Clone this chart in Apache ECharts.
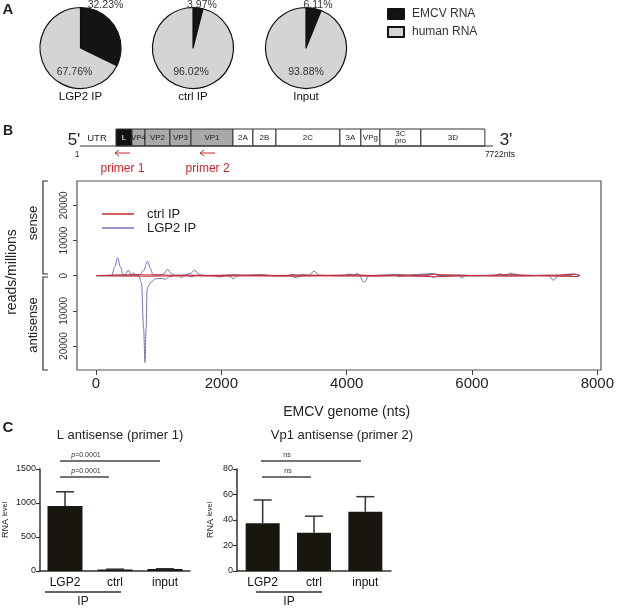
<!DOCTYPE html>
<html>
<head>
<meta charset="utf-8">
<script src="https://cdn.jsdelivr.net/npm/echarts@6/dist/echarts.min.js"></script>
<style>
  html, body { margin: 0; padding: 0; background: #fff; }
  #main { width: 617px; height: 608px; }
</style>
</head>
<body>
<div id="main"></div>
<script>
// ---- panel A: read share
const pieNames = ['EMCV RNA', 'human RNA']
const pieTitles = ['LGP2 IP', 'ctrl IP', 'Input']
const emcvPct = [32.23, 3.97, 6.11]
const humanPct = [67.76, 96.02, 93.88]

// ---- panel B: genome map (nt)
const genomeLen = 7722
const segNames = ['L', 'VP4', 'VP2', 'VP3', 'VP1', '2A', '2B', '2C', '3A', 'VPg', '3C\npro', '3D']
const segStart = [673, 972, 1215, 1682, 2075, 2860, 3234, 3664, 4860, 5252, 5607, 6374]
const segEnd = 7570
const primerNames = ['primer 1', 'primer 2']
const primerPos = [795, 2385]

// ---- panel B: coverage (reads/millions, antisense negative)
const lgp2Sense = [[0, 0], [250, 0], [300, 2500], [345, 5100], [390, 2500], [430, 200], [470, 300], [515, 1500],
  [560, 300], [595, 800], [640, 200], [700, 300], [760, 1500], [822, 4100], [870, 2000], [910, 200], [1000, 100],
  [1080, 500], [1145, 1800], [1200, 600], [1260, 100], [1400, 100], [1500, 600], [1575, 1500], [1650, 300],
  [1750, 0], [2000, 100], [2200, 300], [2400, 0], [2635, 300], [2800, 0], [3050, 0], [3150, 400], [3220, 100],
  [3290, 300], [3400, 100], [3480, 1300], [3560, 100], [3800, 0], [3950, 0], [4040, 500], [4100, 100], [4170, 600],
  [4240, 0], [4500, 100], [4800, 300], [5000, 200], [5180, 400], [5390, 600], [5500, 0], [5800, 200], [6000, 0],
  [6350, 0], [6450, 500], [6540, 100], [6610, 700], [6690, 400], [6800, 0], [7200, 100], [7400, 0], [7510, 400],
  [7640, 500], [7700, 100], [7722, 0]]
const lgp2Anti = [[0, 0], [680, 0], [725, -2000], [760, -15000], [782, -24700], [800, -15000], [815, -4000],
  [840, -2800], [885, -1700], [950, -900], [1050, -800], [1110, -1000], [1170, -300], [1250, 0], [1310, 0],
  [1360, -500], [1420, 0], [1460, 0], [1520, -400], [1580, 0], [1900, 0], [1970, -400], [2050, 0], [2120, 0],
  [2190, -900], [2260, 0], [3100, 0], [3170, -500], [3250, -300], [3300, 0], [4200, 0], [4280, -1900], [4360, 0],
  [4780, 0], [4850, -300], [4950, 0], [5320, 0], [5390, -500], [5450, 0], [5780, 0], [5840, -600], [5900, 0],
  [7220, 0], [7300, -1300], [7380, 0], [7580, 0], [7640, -300], [7722, 0]]
const ctrlSense = [[0, 0], [150, 100], [300, 200], [500, 250], [650, 300], [800, 200], [1000, 250], [1200, 100],
  [1500, 150], [1800, 50], [2100, 100], [2500, 200], [2900, 50], [3300, 150], [3700, 100], [4100, 250], [4400, 50],
  [4800, 150], [5100, 100], [5400, 350], [5800, 100], [6200, 50], [6500, 300], [6700, 250], [7000, 50], [7300, 150],
  [7500, 250], [7640, 400], [7722, 0]]
const ctrlAnti = [[0, 0], [400, -100], [800, -150], [1200, -100], [1600, -50], [2000, -150], [2400, -50],
  [2800, -100], [3200, -150], [3600, -50], [4000, -100], [4400, -150], [4800, -50], [5200, -200], [5400, -300],
  [5800, -100], [6200, -50], [6600, -150], [7000, -50], [7400, -150], [7640, -250], [7722, 0]]

// ---- panel C: qPCR
const barCats = ['LGP2', 'ctrl', 'input']
const lMean = [955, 22, 28]
const lErr = [210, 5, 5]
const vp1Mean = [37.5, 30, 46.5]
const vp1Err = [18.2, 13, 11.8]
const lPvals = ['p=0.0001', 'p=0.0001']
const vp1Pvals = ['ns', 'ns']

const FONT = 'Liberation Sans, Arial, sans-serif'
const RED = '#c8282e'
const BLUE = '#6d72b8'

const chart = echarts.init(document.getElementById('main'))

const g = []
function txt(x, y, s, size, opts) {
  opts = opts || {}
  g.push({
    type: 'text', x: x, y: y, rotation: opts.rotation || 0, z: 10,
    style: {
      text: s, fontSize: size, fontFamily: FONT, fill: opts.fill || '#222',
      fontWeight: opts.bold ? 'bold' : 'normal', fontStyle: opts.italic ? 'italic' : 'normal',
      align: opts.align || 'center', verticalAlign: 'middle', lineHeight: opts.lineHeight
    }
  })
}
function line(x1, y1, x2, y2, color, w) {
  g.push({ type: 'line', z: 10, shape: { x1: x1, y1: y1, x2: x2, y2: y2 }, style: { stroke: color || '#333', lineWidth: w || 1 } })
}

// panel letters
txt(8, 10, 'A', 15, { bold: true })
txt(8, 131, 'B', 14, { bold: true })
txt(8, 428, 'C', 15, { bold: true })

// pie labels
const pieCx = [80.5, 193, 306]
const pieTopDx = [25, 9, 12]
const pieLowDx = [-6, -2, 0]
pieTitles.forEach((t, i) => {
  txt(pieCx[i] + pieTopDx[i], 5, emcvPct[i].toFixed(2) + '%', 10.5, { fill: '#333' })
  txt(pieCx[i] + pieLowDx[i], 72, humanPct[i].toFixed(2) + '%', 10.5, { fill: '#333' })
  txt(pieCx[i], 97, t, 11.5, { fill: '#111' })
})

// genome map
const gx0 = 80, gx1 = 493
const ntPx = nt => gx0 + (nt / genomeLen) * (gx1 - gx0)
const boxTop = 129, boxH = 17
line(gx0, boxTop + boxH, gx1, boxTop + boxH, '#333', 1)
segNames.forEach((n, i) => {
  const a = ntPx(segStart[i])
  const b = ntPx(i + 1 < segStart.length ? segStart[i + 1] : segEnd)
  const fill = n === 'L' ? '#111' : (n.indexOf('VP') === 0 && n !== 'VPg' ? '#a9a9a9' : '#fff')
  g.push({ type: 'rect', z: 9, shape: { x: a, y: boxTop, width: b - a, height: boxH }, style: { fill: fill, stroke: '#333', lineWidth: 1 } })
  if (n.indexOf('\n') >= 0) {
    txt((a + b) / 2, boxTop + boxH / 2, n, 7.5, { lineHeight: 7 })
  } else {
    txt((a + b) / 2, boxTop + boxH / 2, n, 8, { fill: n === 'L' ? '#fff' : '#222' })
  }
})
txt(74, 140, "5'", 17)
txt(506, 140, "3'", 17)
txt(97, 138, 'UTR', 9.5)
txt(77, 155, '1', 8.5)
txt(500, 155, '7722nts', 8.5)
primerPos.forEach((p, i) => {
  const cx = ntPx(p)
  line(cx - 7.5, 153, cx + 7.5, 153, RED, 1)
  g.push({ type: 'polyline', z: 10, shape: { points: [[cx - 3.5, 150], [cx - 7.5, 153], [cx - 3.5, 156]] }, style: { stroke: RED, lineWidth: 1, fill: null } })
  txt(cx, 169, primerNames[i], 12, { fill: RED })
})

// line chart frame, brackets, labels
g.push({ type: 'rect', z: 5, shape: { x: 77, y: 181, width: 524, height: 189 }, style: { fill: null, stroke: '#555', lineWidth: 1.2 } })
g.push({ type: 'polyline', z: 10, shape: { points: [[48, 181], [43, 181], [43, 274], [48, 274]] }, style: { stroke: '#333', lineWidth: 1.2, fill: null } })
g.push({ type: 'polyline', z: 10, shape: { points: [[48, 277], [43, 277], [43, 370], [48, 370]] }, style: { stroke: '#333', lineWidth: 1.2, fill: null } })
txt(33, 223, 'sense', 13, { rotation: Math.PI / 2 })
txt(33, 325, 'antisense', 13, { rotation: Math.PI / 2 })
txt(12, 272, 'reads/millions', 14, { rotation: Math.PI / 2 })

// panel C titles & annotations
txt(120, 435, 'L antisense (primer 1)', 13)
txt(342, 435, 'Vp1 antisense (primer 2)', 13)
function sig(x1, x2, y, label) {
  line(x1, y, x2, y, '#444', 1.5)
  const isP = label.indexOf('p=') === 0
  g.push({
    type: 'text', x: x1 + 26, y: y - 6, z: 10,
    style: {
      text: isP ? '{i|p}{n|' + label.slice(1) + '}' : label, fontSize: 7, fontFamily: FONT, fill: '#333',
      align: 'center', verticalAlign: 'middle',
      rich: { i: { fontStyle: 'italic', fontSize: 7, fontFamily: FONT, fill: '#333' }, n: { fontSize: 7, fontFamily: FONT, fill: '#333' } }
    }
  })
}
sig(60, 160, 461, lPvals[0])
sig(60, 109, 477, lPvals[1])
sig(261, 361, 461, vp1Pvals[0])
sig(262, 311, 477, vp1Pvals[1])
line(45, 592, 121, 592, '#333', 1.5)
txt(83, 602, 'IP', 12)
line(256, 592, 322, 592, '#333', 1.5)
txt(289, 602, 'IP', 12)

function errSeries(xi, yi, mean, err) {
  return {
    type: 'custom', xAxisIndex: xi, yAxisIndex: yi, z: 5,
    data: mean.map((m, i) => [i, m, err[i]]),
    renderItem: function (params, api) {
      const base = api.coord([api.value(0), api.value(1)])
      const top = api.coord([api.value(0), api.value(1) + api.value(2)])
      return {
        type: 'group', children: [
          { type: 'line', shape: { x1: base[0], y1: base[1], x2: top[0], y2: top[1] }, style: { stroke: '#333', lineWidth: 1.5 } },
          { type: 'line', shape: { x1: top[0] - 9, y1: top[1], x2: top[0] + 9, y2: top[1] }, style: { stroke: '#333', lineWidth: 1.5 } }
        ]
      }
    }
  }
}

function barAxisX(gi) {
  return {
    type: 'category', gridIndex: gi, data: barCats,
    axisLine: { onZero: false, lineStyle: { color: '#333', width: 1.5 } },
    axisTick: { alignWithLabel: true, length: 4, lineStyle: { color: '#333', width: 1.2 } },
    axisLabel: { color: '#111', fontSize: 12, fontFamily: FONT, margin: 6 }
  }
}
function barAxisY(gi, max, interval, gap) {
  return {
    type: 'value', gridIndex: gi, min: 0, max: max, interval: interval,
    name: '{a|RNA }{b|level}', nameLocation: 'middle', nameRotate: 90, nameGap: gap,
    nameTextStyle: { rich: { a: { fontSize: 9, fontFamily: FONT, color: '#222' }, b: { fontSize: 7, fontFamily: FONT, color: '#222' } } },
    splitLine: { show: false },
    axisLine: { show: true, onZero: false, lineStyle: { color: '#333', width: 1.5 } },
    axisTick: { show: true, length: 4, lineStyle: { color: '#333', width: 1.2 } },
    axisLabel: { color: '#222', fontSize: 9, fontFamily: FONT, margin: 4, formatter: v => String(v) }
  }
}

const lineBase = { type: 'line', xAxisIndex: 0, yAxisIndex: 0, showSymbol: false, symbol: 'none', smooth: 0.35, smoothMonotone: 'x', clip: false }

chart.setOption({
  animation: false,
  textStyle: { fontFamily: FONT },
  legend: [
    {
      data: pieNames, orient: 'vertical', left: 382, top: 3, itemWidth: 16, itemHeight: 10, itemGap: 6,
      icon: 'rect', textStyle: { fontSize: 12, color: '#333', fontFamily: FONT, padding: [0, 0, 0, 3] }
    },
    {
      data: ['ctrl IP', 'LGP2 IP'], orient: 'vertical', left: 97, top: 202, itemWidth: 32, itemHeight: 1.5, itemGap: 0,
      icon: 'rect', textStyle: { fontSize: 13, color: '#222', fontFamily: FONT, padding: [0, 0, 0, 8], lineHeight: 14 }
    }
  ],
  grid: [
    { left: 96, right: 18, top: 205.3, bottom: 262 },
    { left: 39, right: 427, top: 469, bottom: 37 },
    { left: 237, right: 226, top: 469, bottom: 37 }
  ],
  xAxis: [
    {
      type: 'value', gridIndex: 0, min: 0, max: 8000, interval: 2000, offset: 24,
      name: 'EMCV genome (nts)', nameLocation: 'middle', nameGap: 35,
      nameTextStyle: { fontSize: 14, color: '#222', fontFamily: FONT },
      splitLine: { show: false }, axisLine: { show: false, onZero: false },
      axisTick: { show: true, length: 5, lineStyle: { color: '#444' } },
      axisLabel: { fontSize: 15, color: '#222', fontFamily: FONT, margin: 6, formatter: v => String(v) }
    },
    barAxisX(1),
    barAxisX(2)
  ],
  yAxis: [
    {
      type: 'value', gridIndex: 0, min: -20000, max: 20000, interval: 10000, offset: 19,
      splitLine: { show: false }, axisLine: { show: false, onZero: false },
      axisTick: { show: true, length: 4, lineStyle: { color: '#444' } },
      axisLabel: { rotate: 90, fontSize: 10, color: '#333', fontFamily: FONT, margin: 8, formatter: v => String(Math.abs(v)) }
    },
    barAxisY(1, 1500, 500, 30),
    barAxisY(2, 80, 20, 22)
  ],
  series: [
    ...pieTitles.map((t, i) => ({
      type: 'pie', center: [pieCx[i], 48], radius: 40.5, startAngle: 90, clockwise: true,
      label: { show: false }, labelLine: { show: false }, silent: true,
      itemStyle: { borderColor: '#111', borderWidth: 1.2 },
      data: [
        { name: pieNames[0], value: emcvPct[i], itemStyle: { color: '#141414' } },
        { name: pieNames[1], value: humanPct[i], itemStyle: { color: '#d4d4d4' } }
      ]
    })),
    Object.assign({}, lineBase, { name: 'LGP2 IP', data: lgp2Sense, lineStyle: { color: BLUE, width: 1 }, itemStyle: { color: BLUE } }),
    Object.assign({}, lineBase, { name: 'LGP2 IP', data: lgp2Anti, lineStyle: { color: BLUE, width: 1 }, itemStyle: { color: BLUE } }),
    Object.assign({}, lineBase, { name: 'ctrl IP', data: ctrlSense, lineStyle: { color: RED, width: 1 }, itemStyle: { color: RED } }),
    Object.assign({}, lineBase, { name: 'ctrl IP', data: ctrlAnti, lineStyle: { color: RED, width: 1 }, itemStyle: { color: RED } }),
    { type: 'bar', xAxisIndex: 1, yAxisIndex: 1, data: lMean, barWidth: 35, itemStyle: { color: '#18160f' } },
    errSeries(1, 1, lMean, lErr),
    { type: 'bar', xAxisIndex: 2, yAxisIndex: 2, data: vp1Mean, barWidth: 34, itemStyle: { color: '#18160f' } },
    errSeries(2, 2, vp1Mean, vp1Err)
  ],
  graphic: g
})

window.addEventListener('resize', () => chart.resize())
</script>
</body>
</html>
